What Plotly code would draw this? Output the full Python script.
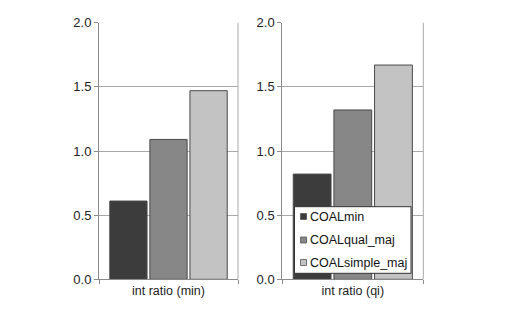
import plotly.graph_objects as go

categories = ["int ratio (min)", "int ratio (qi)"]
series_names = ["COALmin", "COALqual_maj", "COALsimple_maj"]
values_min = [0.61, 1.09, 1.47]
values_qi = [0.82, 1.32, 1.67]
colors = ["#3c3c3c", "#878787", "#c3c3c3"]
y_ticks = [0.0, 0.5, 1.0, 1.5, 2.0]

W, H = 520, 312
FONT = "Liberation Sans, Arial, sans-serif"

fig = go.Figure()
for i, name in enumerate(series_names):
    fig.add_trace(go.Bar(x=[categories[0]], y=[values_min[i]], name=name,
                         marker=dict(color=colors[i], line=dict(color="#4a4a4a", width=1)),
                         xaxis="x", yaxis="y", showlegend=False))
    fig.add_trace(go.Bar(x=[categories[1]], y=[values_qi[i]], name=name,
                         marker=dict(color=colors[i], line=dict(color="#4a4a4a", width=1)),
                         xaxis="x2", yaxis="y2", showlegend=False))

def px_x(p):
    return p / W

def px_y(p):
    return 1 - p / H

ydom = [px_y(279.3), px_y(22.7)]
xdom1 = [px_x(99), px_x(238)]
xdom2 = [px_x(282.3), px_x(423.3)]

yax = dict(range=[0, 2], tickvals=y_ticks, ticktext=[f"{v:.1f}" for v in y_ticks],
           showgrid=True, gridcolor="#a8a8a8", gridwidth=1,
           showline=True, linecolor="#8a8a8a", linewidth=1,
           ticks="outside", ticklen=4, tickcolor="#8a8a8a",
           tickfont=dict(family=FONT, size=13, color="#222"),
           zeroline=False, domain=ydom, fixedrange=True, automargin=False)
xax = dict(showline=True, linecolor="#8a8a8a", linewidth=1,
           ticks="outside", ticklen=4, tickcolor="#8a8a8a", tickson="boundaries",
           tickfont=dict(family=FONT, size=12.5, color="#222"), fixedrange=True,
           automargin=False)

fig.update_layout(
    width=W, height=H, margin=dict(l=0, r=0, t=0, b=0, pad=0),
    paper_bgcolor="white", plot_bgcolor="white",
    barmode="group", bargap=0.135, bargroupgap=0.07,
    showlegend=False,
    xaxis=dict(xax, domain=xdom1, anchor="y"),
    yaxis=dict(yax, anchor="x"),
    xaxis2=dict(xax, domain=xdom2, anchor="y2"),
    yaxis2=dict(yax, anchor="x2"),
)

# right borders of the plot areas
for xref, yref in [("x domain", "y domain"), ("x2 domain", "y2 domain")]:
    fig.add_shape(type="line", xref=xref, yref=yref, x0=1, x1=1, y0=0, y1=1,
                  line=dict(color="#a8a8a8", width=1))

# legend box
lx0, lx1, ly0, ly1 = 294.5, 411, 206.7, 273.3
fig.add_shape(type="rect", xref="paper", yref="paper",
              x0=px_x(lx0), x1=px_x(lx1), y0=px_y(ly1), y1=px_y(ly0),
              line=dict(color="#333", width=1), fillcolor="white", layer="above")
item_y = [216.5, 240.0, 262.5]
for i, name in enumerate(series_names):
    cy = item_y[i]
    fig.add_shape(type="rect", xref="paper", yref="paper",
                  x0=px_x(300.5), x1=px_x(306.5), y0=px_y(cy + 3), y1=px_y(cy - 3),
                  line=dict(color="#555", width=0.8), fillcolor=colors[i], layer="above")
    fig.add_annotation(x=px_x(308), y=px_y(cy), xref="paper", yref="paper",
                       text=name, showarrow=False, xanchor="left", yanchor="middle",
                       font=dict(family=FONT, size=12.5, color="#111"))

fig.write_html("out.html")
